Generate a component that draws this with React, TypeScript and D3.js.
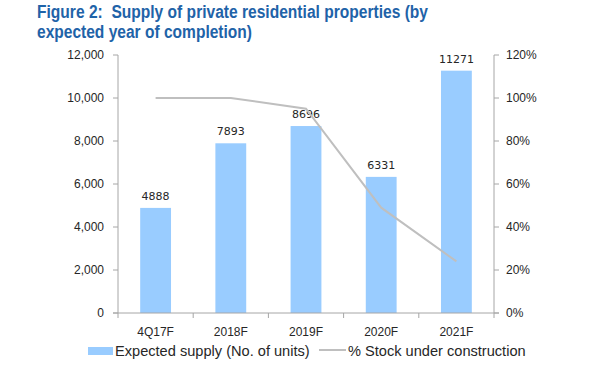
import React from "react";
import * as d3 from "d3";

const categories = ["4Q17F", "2018F", "2019F", "2020F", "2021F"];
const supply = [4888, 7893, 8696, 6331, 11271];
const stockPct = [100, 100, 95, 49, 24];
const leftTicks = [0, 2000, 4000, 6000, 8000, 10000, 12000];
const rightTicks = [0, 20, 40, 60, 80, 100, 120];
const titleLines = [
  "Figure 2:  Supply of private residential properties (by",
  "expected year of completion)",
];
const titleWidths = [391, 215];
const legendLabels = ["Expected supply (No. of units)", "% Stock under construction"];

const W = 600;
const H = 366;
const left = 118;
const right = 494;
const top = 55;
const bottom = 313;
const axisColor = "#a6a6a6";
const textColor = "#262626";
const barColor = "#99ccff";
const lineColor = "#bfbfbf";
const font = "'Liberation Sans', Arial, sans-serif";

export default function App() {
  const x = d3.scaleBand<string>().domain(categories).range([left, right]).paddingInner(0.59).paddingOuter(0.295);
  const yL = d3.scaleLinear().domain([0, 12000]).range([bottom, top]);
  const yR = d3.scaleLinear().domain([0, 120]).range([bottom, top]);
  const step = (right - left) / categories.length;
  const cx = (c: string) => (x(c) as number) + x.bandwidth() / 2;
  const line = d3
    .line<number>()
    .x((_, i) => cx(categories[i]))
    .y((d) => yR(d));
  const fmt = d3.format(",");

  return (
    <svg width={W} height={H} style={{ position: "absolute", left: 0, top: 0 }} xmlns="http://www.w3.org/2000/svg">
      <rect width={W} height={H} fill="#fff" />
      {titleLines.map((t, i) => (
        <text
          key={i}
          x={37}
          y={17.5 + i * 20}
          fill="#1f63a8"
          fontFamily={font}
          fontWeight="bold"
          fontSize={17.5}
          textLength={titleWidths[i]}
          lengthAdjust="spacingAndGlyphs"
          style={{ whiteSpace: "pre" }}
        >
          {t}
        </text>
      ))}
      {/* bars */}
      {supply.map((v, i) => (
        <rect key={i} x={x(categories[i])} y={yL(v)} width={x.bandwidth()} height={bottom - yL(v)} fill={barColor} />
      ))}
      {/* bar labels */}
      {supply.map((v, i) => (
        <text
          key={i}
          x={cx(categories[i])}
          y={yL(v) - 8}
          textAnchor="middle"
          fontFamily="'DejaVu Sans', Verdana, sans-serif"
          fontSize={11}
          fill={textColor}
        >
          {v}
        </text>
      ))}
      {/* line */}
      <path d={line(stockPct) || ""} fill="none" stroke={lineColor} strokeWidth={2} />
      {/* left axis */}
      <line x1={left} x2={left} y1={top} y2={bottom} stroke={axisColor} />
      {leftTicks.map((t) => (
        <g key={t}>
          <line x1={left - 5} x2={left} y1={yL(t)} y2={yL(t)} stroke={axisColor} />
          <text x={left - 14} y={yL(t) + 4} textAnchor="end" fontFamily={font} fontSize={12} fill={textColor}>
            {fmt(t)}
          </text>
        </g>
      ))}
      {/* right axis */}
      <line x1={right} x2={right} y1={top} y2={bottom} stroke={axisColor} />
      {rightTicks.map((t) => (
        <g key={t}>
          <line x1={right} x2={right + 5} y1={yR(t)} y2={yR(t)} stroke={axisColor} />
          <text x={right + 12} y={yR(t) + 4} textAnchor="start" fontFamily={font} fontSize={12} fill={textColor}>
            {t}%
          </text>
        </g>
      ))}
      {/* x axis */}
      <line x1={left - 5} x2={right + 5} y1={bottom} y2={bottom} stroke={axisColor} />
      {d3.range(categories.length + 1).map((i) => (
        <line key={i} x1={left + i * step} x2={left + i * step} y1={bottom} y2={bottom + 5} stroke={axisColor} />
      ))}
      {categories.map((c) => (
        <text key={c} x={cx(c)} y={336} textAnchor="middle" fontFamily={font} fontSize={12} fill={textColor}>
          {c}
        </text>
      ))}
      {/* legend */}
      <rect x={88} y={347} width={25} height={8} fill={barColor} />
      <text x={115} y={356} fontFamily={font} fontSize={14.6} fill={textColor}>
        {legendLabels[0]}
      </text>
      <line x1={319} x2={346} y1={350} y2={350} stroke={lineColor} strokeWidth={2} />
      <text x={348} y={356} fontFamily={font} fontSize={14.6} fill={textColor}>
        {legendLabels[1]}
      </text>
    </svg>
  );
}
